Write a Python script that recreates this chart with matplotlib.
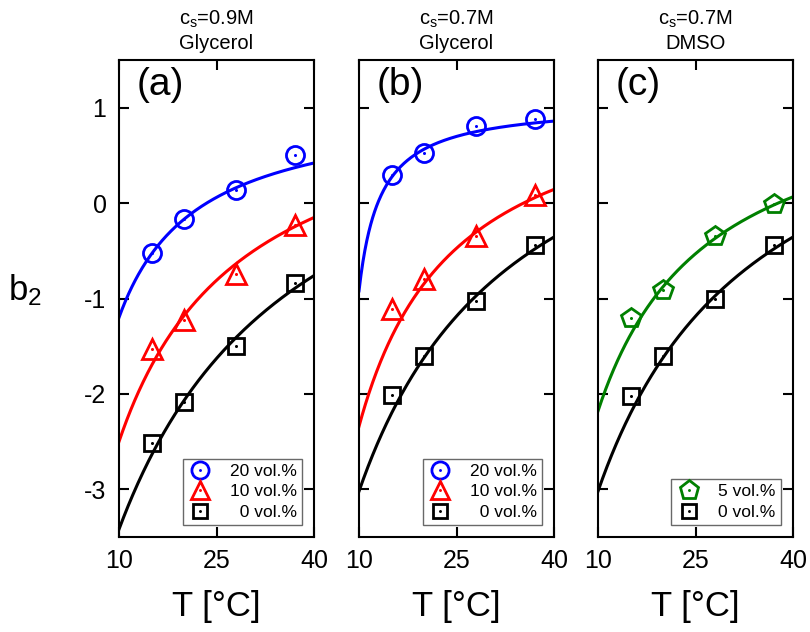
import numpy as np
import matplotlib
matplotlib.use("Agg")
import matplotlib.pyplot as plt

plt.rcParams['font.family'] = ['Liberation Sans', 'DejaVu Sans']
plt.rcParams['mathtext.fontset'] = 'custom'
plt.rcParams['mathtext.rm'] = 'Liberation Sans'
plt.rcParams['mathtext.it'] = 'Liberation Sans'
plt.rcParams['axes.unicode_minus'] = False

# temperaturas medidas (°C)
T = [15, 20, 28, 37]

# (a) cs = 0.9M, glicerol
a_20 = [-0.52, -0.17, 0.14, 0.50]
a_10 = [-1.53, -1.23, -0.74, -0.23]
a_0 = [-2.51, -2.09, -1.50, -0.84]
# (b) cs = 0.7M, glicerol
b_20 = [0.29, 0.52, 0.81, 0.88]
b_10 = [-1.11, -0.80, -0.35, 0.09]
b_0 = [-2.01, -1.60, -1.03, -0.44]
# (c) cs = 0.7M, DMSO
c_5 = [-1.20, -0.91, -0.35, -0.01]
c_0 = [-2.02, -1.60, -1.01, -0.44]

# parametros do ajuste b2 = A - B/(T - T0)
fit_a_20 = (1.07, 27.3, -2.03)
fit_a_10 = (1.35, 73.8, -9.17)
fit_a_0 = (1.747, 146.1, -18.28)
fit_b_20 = (1.056, 6.54, 6.69)
fit_b_10 = (1.37, 54.95, -4.81)
fit_b_0 = (1.846, 120.6, -14.78)
fit_c_5 = (1.338, 59.8, -7.0)

titles = ['$\\mathregular{c_s}$=0.9M\nGlycerol',
          '$\\mathregular{c_s}$=0.7M\nGlycerol',
          '$\\mathregular{c_s}$=0.7M\nDMSO']
letters = ['(a)', '(b)', '(c)']

BLUE, RED, GREEN = '#0000ff', '#ff0000', '#008000'

panels = [
    [(a_20, fit_a_20, BLUE, 'o', 13, '20 vol.%'),
     (a_10, fit_a_10, RED, '^', 14, '10 vol.%'),
     (a_0, fit_a_0, 'black', 's', 11, '  0 vol.%')],
    [(b_20, fit_b_20, BLUE, 'o', 13, '20 vol.%'),
     (b_10, fit_b_10, RED, '^', 14, '10 vol.%'),
     (b_0, fit_b_0, 'black', 's', 11, '  0 vol.%')],
    [(c_5, fit_c_5, GREEN, 'p', 15, '5 vol.%'),
     (c_0, fit_b_0, 'black', 's', 11, '0 vol.%')],
]

fig = plt.figure(figsize=(8.1, 6.32), dpi=100)
lefts = [119 / 810, 359 / 810, 598 / 810]
tt = np.linspace(10, 40, 300)

for i, series in enumerate(panels):
    ax = fig.add_axes([lefts[i], 1 - 537 / 632, 195 / 810, 477 / 632])
    handles = []
    for vals, (A, B, T0), col, mk, ms, lab in series:
        ax.plot(tt, A - B / (tt - T0), color=col, lw=2.2, zorder=2)
        h1, = ax.plot(T, vals, ls='none', marker=mk, ms=ms, mfc='none',
                      mec=col, mew=2.0, zorder=3)
        h2, = ax.plot(T, vals, ls='none', marker='o', ms=2.2, color=col,
                      mew=0, zorder=4)
        handles.append(((h1, h2), lab))
    ax.set_xlim(10, 40)
    ax.set_ylim(-3.5, 1.5)
    ax.set_xticks([10, 25, 40])
    ax.set_yticks([-3, -2, -1, 0, 1])
    ax.tick_params(direction='in', length=7, width=1.5, top=True, right=True,
                   labelsize=18, pad=9)
    if i > 0:
        ax.set_yticklabels([])
    for s in ax.spines.values():
        s.set_linewidth(1.5)
    ax.set_xlabel('T [°C]', fontsize=25, labelpad=12)
    ax.set_title(titles[i], fontsize=14.5, pad=8, linespacing=1.25)
    ax.text(0.09, 0.985, letters[i], transform=ax.transAxes, fontsize=28,
            va='top', ha='left')
    leg = ax.legend([h for h, _ in handles], [l for _, l in handles],
                    loc='lower right', fontsize=12.5, frameon=True, fancybox=False,
                    borderaxespad=0.7, handlelength=1.4, handletextpad=1.0,
                    borderpad=0.3, labelspacing=0.3, markerscale=0.95)
    leg.get_frame().set_edgecolor('#444444')
    leg.get_frame().set_linewidth(1.0)

fig.text(0.031, 1 - 290 / 632, '$\\mathregular{b_2}$', fontsize=25,
         ha='center', va='center')

fig.savefig('out.png', dpi=100)
